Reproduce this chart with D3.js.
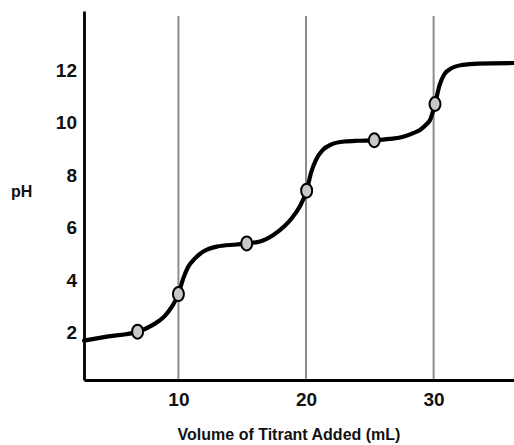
<!DOCTYPE html>
<html>
<head>
<meta charset="utf-8">
<script src="https://cdn.jsdelivr.net/npm/d3@7/dist/d3.min.js"></script>
<style>
  html, body { margin: 0; padding: 0; background: #fff; }
  svg { display: block; }
</style>
</head>
<body>
<svg id="chart" width="514" height="445"></svg>
<script>
// ---- data ----
const curveVolume = [2.6, 4.5, 6.8, 8.0, 8.9, 9.5, 10.0, 10.38, 10.77, 11.3, 11.95, 13.0, 14.57, 15.35, 16.39, 17.44, 18.3, 18.9, 19.5, 20.05, 20.4, 20.8, 21.3, 22.0, 23.0, 24.2, 25.35, 26.58, 27.62, 28.4, 28.93, 29.4, 29.72, 30.11, 30.45, 30.85, 31.4, 32.3, 33.5, 36.3];
const curvePH     = [1.70, 1.86, 2.04, 2.30, 2.62, 3.00, 3.47, 4.07, 4.51, 4.83, 5.09, 5.28, 5.36, 5.40, 5.47, 5.72, 6.05, 6.37, 6.80, 7.41, 8.10, 8.60, 8.95, 9.17, 9.28, 9.31, 9.33, 9.38, 9.46, 9.60, 9.72, 9.92, 10.10, 10.71, 11.40, 11.85, 12.07, 12.20, 12.25, 12.27];
const markerVolume = [6.8, 10.0, 15.35, 20.05, 25.35, 30.11];
const markerPH     = [2.04, 3.47, 5.40, 7.41, 9.33, 10.71];
const xTicks = [10, 20, 30];
const yTicks = [2, 4, 6, 8, 10, 12];
const xLabel = "Volume of Titrant Added (mL)";
const yLabel = "pH";

// ---- drawing ----
const svg = d3.select("#chart");
const x = d3.scaleLinear().domain([2.6, 36.3]).range([84, 514]);
const y = d3.scaleLinear().domain([0.2, 14.25]).range([380, 11]);

// vertical reference lines
svg.append("g").selectAll("line").data(xTicks).join("line")
  .attr("x1", d => x(d)).attr("x2", d => x(d))
  .attr("y1", 16).attr("y2", y(0.2))
  .attr("stroke", "#8c8c8c").attr("stroke-width", 2);

// axes
const fontFam = "'Liberation Sans', Arial, Helvetica, sans-serif";
const yAxis = svg.append("g").attr("transform", `translate(${x(2.6)},0)`)
  .call(d3.axisLeft(y).tickValues(yTicks).tickSize(0).tickSizeOuter(0).tickPadding(7));
const xAxis = svg.append("g").attr("transform", `translate(0,${y(0.2)})`)
  .call(d3.axisBottom(x).tickValues(xTicks).tickSize(0).tickSizeOuter(0).tickPadding(13));
[xAxis, yAxis].forEach(g => {
  g.select(".domain").attr("stroke", "#000").attr("stroke-width", 2.8);
  g.selectAll("text").attr("font-family", fontFam).attr("font-size", 19)
    .attr("font-weight", "bold").attr("fill", "#111");
});

// curve
const pts = curveVolume.map((v, i) => [v, curvePH[i]]);
svg.append("path").datum(pts)
  .attr("d", d3.line().x(d => x(d[0])).y(d => y(d[1])).curve(d3.curveMonotoneX))
  .attr("fill", "none").attr("stroke", "#000").attr("stroke-width", 4.2)
  .attr("stroke-linecap", "round");

// markers
svg.append("g").selectAll("ellipse").data(markerVolume).join("ellipse")
  .attr("cx", d => x(d)).attr("cy", (d, i) => y(markerPH[i]))
  .attr("rx", 5.5).attr("ry", 7)
  .attr("fill", "#c8c8c8").attr("stroke", "#000").attr("stroke-width", 2);

// labels
svg.append("text").attr("x", 289).attr("y", 440).attr("text-anchor", "middle")
  .attr("font-family", fontFam).attr("font-size", 16).attr("font-weight", "bold")
  .attr("fill", "#111").text(xLabel);
svg.append("text").attr("x", 11).attr("y", 197)
  .attr("font-family", fontFam).attr("font-size", 16).attr("font-weight", "bold")
  .attr("fill", "#111").text(yLabel);
</script>
</body>
</html>
